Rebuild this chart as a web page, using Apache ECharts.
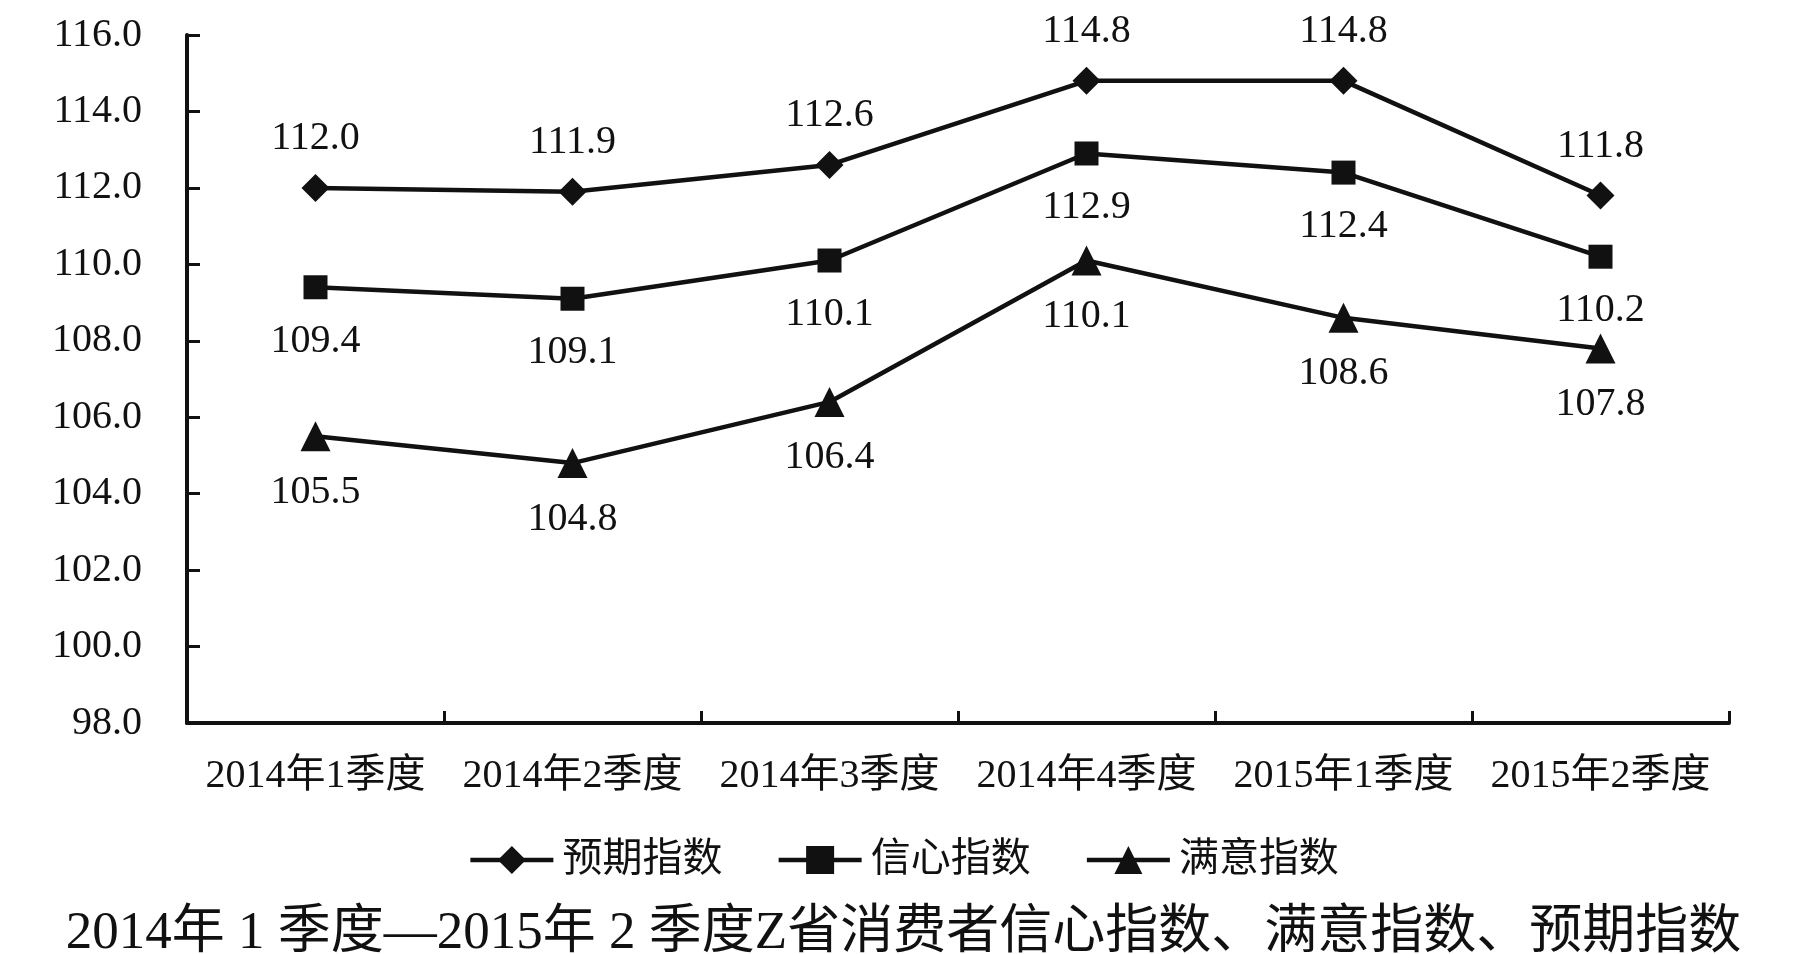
<!DOCTYPE html>
<html>
<head>
<meta charset="utf-8">
<script src="https://cdn.jsdelivr.net/npm/echarts@6/dist/echarts.min.js"></script>
<style>
html,body{margin:0;padding:0;background:#fff;}
#chart{width:1807px;height:954px;}
</style>
</head>
<body>
<div id="chart"></div>
<script>
var categories = ['2014年1季度','2014年2季度','2014年3季度','2014年4季度','2015年1季度','2015年2季度'];
var seriesNames = ['预期指数','信心指数','满意指数'];
var expectValues = [112.0, 111.9, 112.6, 114.8, 114.8, 111.8];
var confidenceValues = [109.4, 109.1, 110.1, 112.9, 112.4, 110.2];
var satisfactionValues = [105.5, 104.8, 106.4, 110.1, 108.6, 107.8];
var titleText = '2014年 1 季度—2015年 2 季度Z省消费者信心指数、满意指数、预期指数';

var FONT = "'Liberation Serif', 'Noto Sans CJK SC', serif";
var INK = '#111';

var chart = echarts.init(document.getElementById('chart'));
function fmt(p){ return p.value.toFixed(1); }
function mkSeries(name, data, symbol, size, pos, dist){
  return {
    name: name, type: 'line', data: data,
    symbol: symbol, symbolSize: size,
    lineStyle: {color: INK, width: 4.5},
    itemStyle: {color: INK, borderWidth: 0},
    label: {show: true, position: pos, distance: dist, formatter: fmt,
            fontFamily: FONT, fontSize: 40, color: INK},
    emphasis: {disabled: true},
    animation: false
  };
}
chart.setOption({
  backgroundColor: '#fff',
  animation: false,
  title: {
    text: titleText, left: 'center', top: 903,
    textStyle: {fontFamily: FONT, fontSize: 53, fontWeight: 'normal', color: INK}
  },
  legend: {
    data: seriesNames, left: 'center', top: 835,
    itemWidth: 83, itemHeight: 35, itemGap: 54,
    lineStyle: {width: 4.5, color: INK},
    textStyle: {fontFamily: FONT, fontSize: 40, color: INK, padding: [0,0,0,4]}
  },
  grid: {left: 187, right: 78, top: 35, bottom: 231, containLabel: false},
  xAxis: {
    type: 'category', data: categories, boundaryGap: true,
    axisLine: {lineStyle: {color: INK, width: 4}},
    axisTick: {show: true, inside: true, length: 12, lineStyle: {color: INK, width: 3}},
    axisLabel: {fontFamily: FONT, fontSize: 40, color: INK, margin: 33, interval: 0},
    splitLine: {show: false}
  },
  yAxis: {
    type: 'value', min: 98, max: 116, interval: 2,
    axisLine: {show: true, lineStyle: {color: INK, width: 4}},
    axisTick: {show: true, inside: true, length: 13, lineStyle: {color: INK, width: 3}},
    axisLabel: {fontFamily: FONT, fontSize: 40, color: INK, margin: 45,
                formatter: function(v){ return v.toFixed(1); }},
    splitLine: {show: false}
  },
  series: [
    mkSeries(seriesNames[0], expectValues, 'diamond', 28, 'top', 15),
    mkSeries(seriesNames[1], confidenceValues, 'rect', 24, 'bottom', 22),
    mkSeries(seriesNames[2], satisfactionValues, 'triangle', 30, 'bottom', 21)
  ]
});
</script>
</body>
</html>
